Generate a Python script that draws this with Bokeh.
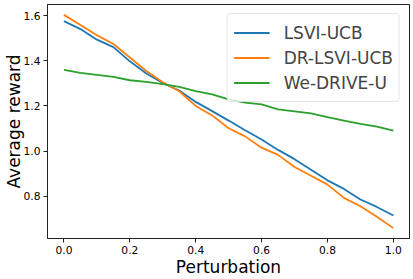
from bokeh.plotting import figure
from bokeh.models import (Range1d, FixedTicker, PrintfTickFormatter, Legend, LegendItem,
                          GlobalInlineStyleSheet)
from bokeh.embed import file_html
from bokeh.resources import INLINE

# ---- data ----
perturbation = [0.0, 0.05, 0.1, 0.15, 0.2, 0.25, 0.3, 0.35, 0.4, 0.45, 0.5,
                0.55, 0.6, 0.65, 0.7, 0.75, 0.8, 0.85, 0.9, 0.95, 1.0]
lsvi_ucb = [1.576, 1.541, 1.494, 1.461, 1.398, 1.344, 1.302, 1.268, 1.218, 1.177, 1.135,
            1.092, 1.051, 1.005, 0.964, 0.917, 0.870, 0.832, 0.785, 0.752, 0.714]
dr_lsvi_ucb = [1.604, 1.559, 1.514, 1.475, 1.415, 1.355, 1.305, 1.265, 1.200, 1.158, 1.101,
               1.065, 1.015, 0.983, 0.929, 0.890, 0.851, 0.792, 0.755, 0.708, 0.658]
we_drive_u = [1.360, 1.347, 1.338, 1.329, 1.314, 1.307, 1.297, 1.285, 1.266, 1.251, 1.229,
              1.215, 1.207, 1.185, 1.176, 1.167, 1.150, 1.135, 1.120, 1.108, 1.090]
series_names = ["LSVI-UCB", "DR-LSVI-UCB", "We-DRIVE-U"]
x_ticks = [0.0, 0.2, 0.4, 0.6, 0.8, 1.0]
y_ticks = [0.8, 1.0, 1.2, 1.4, 1.6]

FONT = "DejaVu Sans"
colors = ["#1f77b4", "#ff7f0e", "#2ca02c"]

p = figure(width=413, height=279, output_backend="svg", toolbar_location=None,
           x_range=Range1d(-0.05, 1.049), y_range=Range1d(0.612, 1.650),
           min_border_left=46, min_border_right=4, min_border_top=4, min_border_bottom=40,
           background_fill_color="white", border_fill_color="white")
p.stylesheets = [GlobalInlineStyleSheet(css="html, body { margin: 0 !important; padding: 0 !important; }")]

p.grid.visible = False
p.outline_line_color = "#222222"
p.outline_line_width = 1
p.outline_line_alpha = 1

for ax in (p.xaxis[0], p.yaxis[0]):
    ax.axis_line_color = "#222222"
    ax.major_tick_line_color = "#222222"
    ax.major_tick_in = 0
    ax.major_tick_out = 4
    ax.minor_tick_line_color = None
    ax.major_label_text_font = FONT
    ax.major_label_text_font_size = "10.7px"
    ax.major_label_text_color = "black"
    ax.axis_label_text_font = FONT
    ax.axis_label_text_font_size = "17px"
    ax.axis_label_text_font_style = "normal"
    ax.axis_label_text_color = "black"
    ax.formatter = PrintfTickFormatter(format="%.1f")

p.xaxis[0].ticker = FixedTicker(ticks=x_ticks)
p.yaxis[0].ticker = FixedTicker(ticks=y_ticks)
p.xaxis[0].axis_label = "Perturbation"
p.yaxis[0].axis_label = "Average reward"
p.xaxis[0].major_label_standoff = 3
p.yaxis[0].major_label_standoff = 3
p.xaxis[0].axis_label_standoff = 0
p.yaxis[0].axis_label_standoff = -3

renderers = []
for ys, c in zip([lsvi_ucb, dr_lsvi_ucb, we_drive_u], colors):
    r = p.line(perturbation, ys, line_color=c, line_width=1.8)
    renderers.append(r)

legend = Legend(items=[LegendItem(label=n, renderers=[r]) for n, r in zip(series_names, renderers)],
                location="top_right", margin=9, padding=6, spacing=0,
                label_text_font=FONT, label_text_font_size="17px",
                label_height=25, glyph_height=25, glyph_width=36, label_standoff=14,
                border_line_color="#cccccc", border_line_width=1,
                background_fill_color="white", background_fill_alpha=0.8)
if "border_radius" in Legend.properties():
    legend.border_radius = 4
p.add_layout(legend)

open("out.html", "w").write(file_html(p, INLINE))
